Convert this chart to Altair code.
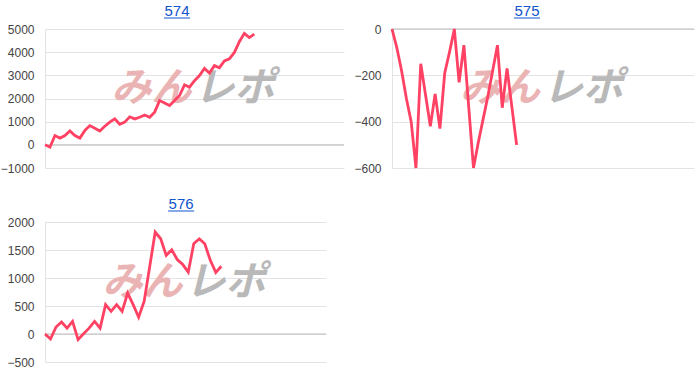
import altair as alt
import pandas as pd

titles = ["574", "575", "576"]
s574 = [0, -100, 400, 290, 400, 600, 400, 290, 620, 830, 720, 600, 800, 980, 1120, 890, 980,
        1210, 1120, 1190, 1290, 1190, 1410, 1910, 1810, 1700, 1910, 2130, 2590, 2490, 2770,
        2990, 3300, 3100, 3420, 3330, 3620, 3710, 3990, 4450, 4810, 4630, 4780]
s575 = [0, -80, -180, -300, -400, -600, -150, -285, -420, -280, -430, -190, -100, 0, -230, -70,
        -335, -600, -490, -390, -290, -180, -70, -340, -170, -335, -500]
s576 = [0, -90, 125, 215, 105, 225, -100, 5, 105, 225, 105, 525, 405, 525, 405, 730, 525, 300,
        585, 1200, 1820, 1700, 1405, 1505, 1330, 1240, 1105, 1610, 1700, 1610, 1315, 1100, 1210]
series = [s574, s575, s576]
x_max = [60, 63, 51]
y_domains = [[-1000, 5000], [-600, 0], [-500, 2000]]
y_steps = [1000, 200, 500]

LINE = "#ff4163"
FONT = "Liberation Sans"


def panel(name, vals, xm, ydom, ystep, w, h, tdx, extent):
    df = pd.DataFrame({"x": list(range(len(vals))), "y": vals})
    ticks = list(range(ydom[0], ydom[1] + 1, ystep))
    one = pd.DataFrame({"a": [0]})
    yscale = alt.Scale(domain=ydom, nice=False, zero=False)
    yaxis = alt.Axis(values=ticks, title=None, grid=True, gridColor="#e3e3e3",
                     ticks=False, domain=True, domainColor="#e3e3e3",
                     labelPadding=11, labelFont=FONT, labelFontSize=12,
                     labelColor="#444444", minExtent=extent, maxExtent=extent,
                     labelOverlap=False, labelFlush=False, format="d")
    line = alt.Chart(df).mark_line(color=LINE, strokeWidth=2.8).encode(
        x=alt.X("x:Q", scale=alt.Scale(domain=[0, xm], nice=False, zero=False), axis=None),
        y=alt.Y("y:Q", scale=yscale, axis=yaxis),
    )
    base0 = alt.Chart(pd.DataFrame({"y": [0]})).mark_rule(color="#bdbdbd", strokeWidth=1).encode(
        y=alt.Y("y:Q", scale=yscale, axis=yaxis))
    wm1 = alt.Chart(one).mark_text(text="みん", font="Noto Sans CJK JP", fontSize=40,
                                   fontWeight="bold", fontStyle="italic", color="#ebb4b4",
                                   baseline="middle", align="center").encode(
        x=alt.value(w / 2 - 43), y=alt.value(h * 0.435))
    wm2 = alt.Chart(one).mark_text(text="レポ", font="Noto Sans CJK JP", fontSize=40,
                                   fontWeight="bold", fontStyle="italic", color="#b9b9b9",
                                   baseline="middle", align="center").encode(
        x=alt.value(w / 2 + 40), y=alt.value(h * 0.435))
    ttl = alt.Chart(one).mark_text(text=name, font=FONT, fontSize=15, color="#1155cc",
                                   baseline="alphabetic", align="center").encode(
        x=alt.value(w / 2 + tdx), y=alt.value(-13.3))
    ul = alt.Chart(one).mark_rule(color="#1155cc", strokeWidth=1).encode(
        x=alt.value(w / 2 + tdx - 13), x2=alt.value(w / 2 + tdx + 13), y=alt.value(-11))
    return alt.layer(wm1, wm2, base0, line, ttl, ul).properties(width=w, height=h)


A = panel(titles[0], series[0], x_max[0], y_domains[0], y_steps[0], 299, 139, -17.5, 43)
B = panel(titles[1], series[1], x_max[1], y_domains[1], y_steps[1], 302, 139, -16, 40)
C = panel(titles[2], series[2], x_max[2], y_domains[2], y_steps[2], 281, 140, -4.4, 39)

top = alt.hconcat(A, B, spacing=7)
chart = alt.vconcat(top, C, spacing=22).properties(
    padding={"left": 0, "top": 3, "right": 0, "bottom": 0},
    background="white",
).configure_view(stroke=None)

chart.save("out.html", embed_options={"renderer": "svg", "actions": False})
